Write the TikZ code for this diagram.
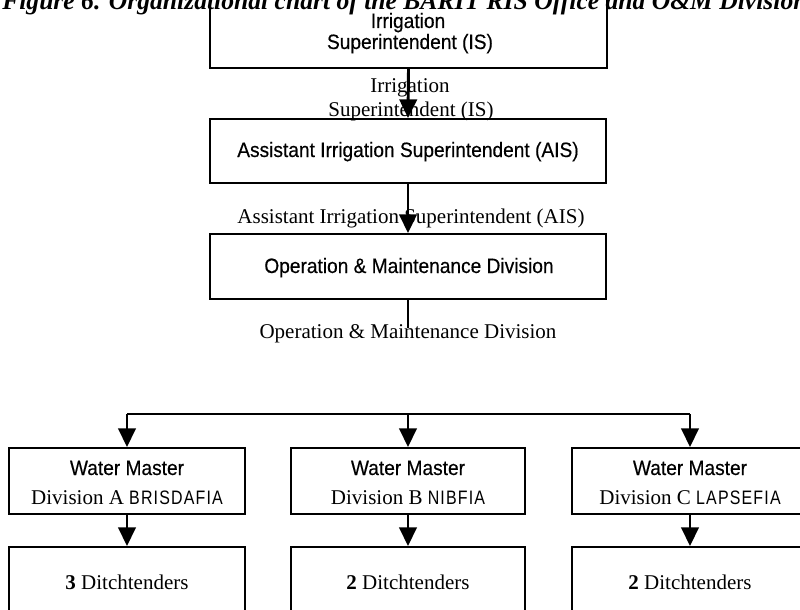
\documentclass[tikz,border=0pt]{standalone}
\usepackage{fontspec}
\setmainfont{Liberation Serif}
\setsansfont{Liberation Sans}
\newfontfamily\boxfont[FakeStretch=0.92,FakeBold=0.4]{Liberation Sans}
\newfontfamily\codefont[FakeStretch=0.82,LetterSpace=6]{Liberation Sans}
\usetikzlibrary{arrows.meta,fit}
\begin{document}
\begin{tikzpicture}[x=0.75pt,y=-0.75pt,
  box/.style={draw, line width=1.4pt, inner sep=0pt},
  conn/.style={line width=2.2pt},
  arr/.style={conn, -{Triangle[length=14pt,width=13pt]}},
  sanslbl/.style={font=\boxfont\fontsize{15.6pt}{18pt}\selectfont, anchor=base, inner sep=0pt},
  seriflbl/.style={font=\rmfamily\fontsize{15.75pt}{18pt}\selectfont, anchor=base, inner sep=0pt},
]
\clip (0,0) rectangle (800,610);
\useasboundingbox (0,0) rectangle (800,610);

% caption
\node[anchor=base west, inner sep=0pt,
      font=\rmfamily\bfseries\itshape\fontsize{19.2pt}{22pt}\selectfont]
  (title) at (2,10) {Figure 6. Organizational chart of the BARIT RIS Office and O\&M Division};

% upper chain of offices
\node[box, fit={(210,-40) (607,68)}] (is) {};
\node[box, fit={(210,119) (606,183)}] (ais) {};
\node[box, fit={(210,234) (606,299)}] (om) {};

\node[sanslbl] (isA) at (408,28) {Irrigation};
\node[sanslbl] (isB) at (410,49) {Superintendent (IS)};
\node[sanslbl] (aisT) at (408,157) {Assistant Irrigation Superintendent (AIS)};
\node[sanslbl] (omT) at (409,273) {Operation \& Maintenance Division};

% serif captions between the boxes
\node[seriflbl] (capIa) at (410,93) {Irrigation};
\node[seriflbl] (capIb) at (411,117) {Superintendent (IS)};
\node[seriflbl] (capA) at (411,223) {Assistant Irrigation Superintendent (AIS)};
\node[seriflbl] (capO) at (408,338) {Operation \& Maintenance Division};

\draw[arr] (is.south) -- (ais.north);
\draw[arr] (ais.south) -- (om.north);

\coordinate (stub) at (408,328);
\draw[conn] (om.south) -- (stub);

% water master divisions
\node[box, fit={(9,448) (245,514)}] (wmA) {};
\node[box, fit={(291,448) (525,514)}] (wmB) {};
\node[box, fit={(572,448) (808,514)}] (wmC) {};

\node[box, fit={(9,547) (245,650)}] (dtA) {};
\node[box, fit={(291,547) (525,650)}] (dtB) {};
\node[box, fit={(572,547) (808,650)}] (dtC) {};

\coordinate (bus) at (408,414);
\draw[conn] (wmA.north |- bus) -- (wmC.north |- bus);

\foreach \d/\cx/\code/\n in {A/127/BRISDAFIA/3, B/408/NIBFIA/2, C/690/LAPSEFIA/2} {
  \draw[arr] (wm\d.north |- bus) -- (wm\d.north);
  \draw[arr] (wm\d.south) -- (dt\d.north);
  \node[sanslbl] (wmT\d) at (\cx,475) {Water Master};
  \node[seriflbl] (wmD\d) at (\cx,504)
    {Division \d\ {\codefont\fontsize{14.6pt}{17pt}\selectfont\code}};
  \node[seriflbl] (dtT\d) at (\cx,589) {\textbf{\n} Ditchtenders};
}
\end{tikzpicture}
\end{document}
